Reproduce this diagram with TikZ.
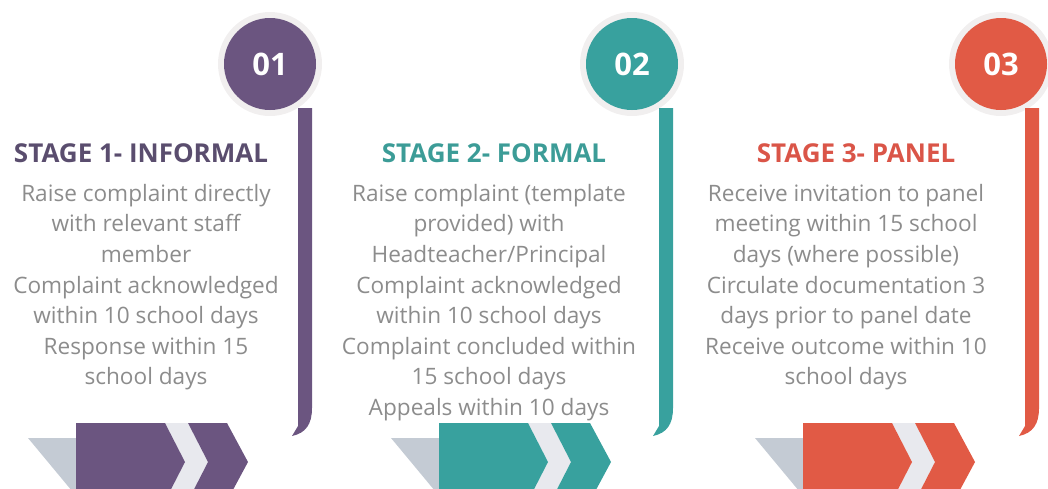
\documentclass[tikz,border=0pt]{standalone}
\usepackage{fontspec}
\setmainfont{Open Sans}
\usetikzlibrary{positioning}

\definecolor{plum}{HTML}{6B5580}
\definecolor{teal}{HTML}{38A19E}
\definecolor{coral}{HTML}{E15A45}
\definecolor{headplum}{HTML}{5A4D6E}
\definecolor{headteal}{HTML}{3C9C97}
\definecolor{headcoral}{HTML}{DA5548}
\definecolor{bodygray}{HTML}{8C8C8C}
\definecolor{ringgray}{HTML}{F1EFEF}
\definecolor{bandgray}{HTML}{E8E9EE}
\definecolor{slate}{HTML}{C4CBD4}

\begin{document}
\begin{tikzpicture}[x=1pt,y=-1pt,
  numdisc/.style={circle,minimum size=92pt,inner sep=0pt,text=white,
    font=\fontsize{31}{33}\selectfont\bfseries},
  heading/.style={font=\fontsize{26}{30}\selectfont\bfseries,anchor=base,inner sep=0pt},
  bodytext/.style={font=\fontsize{22.6}{30.6}\selectfont,text=bodygray,align=center,
    anchor=north,inner sep=0pt}]
  \useasboundingbox (0,0) rectangle (1048,488);
  \clip (0,0) rectangle (1048,488);
  \foreach \n/\col/\cx/\bx/\ax in {01/plum/270/298/0, 02/teal/632/659/363, 03/coral/1001/1025/727}{
    % ring, bar with curled foot, then the number disc
    \fill[ringgray] (\cx,64) circle (52pt);
    \fill[\col] (\bx,108) -- (\bx,426) -- (\bx-6,436)
      .. controls (\bx+8,433) and (\bx+14,424) .. (\bx+14,408) -- (\bx+14,108) -- cycle;
    \node[numdisc,fill=\col] (n\n) at (\cx,64) {\n};
    % chevrons at the foot
    \begin{scope}[shift={(\ax,0)}]
      \fill[slate] (28,438) -- (77,438) -- (77,497) -- cycle;
      \fill[bandgray] (165,423) -- (188,423) -- (208,462) -- (188,501) -- (165,501) -- (185,462) -- cycle;
      \fill[\col] (76,423) -- (165,423) -- (185,462) -- (165,501) -- (76,501) -- cycle;
      \fill[\col] (188,423) -- (227,423) -- (248,462) -- (227,501) -- (188,501) -- (208,462) -- cycle;
    \end{scope}
  }
  \node[heading,text=headplum] (h1) at (141,162.5) {STAGE 1- INFORMAL};
  \node[heading,text=headteal] (h2) at (494,162.5) {STAGE 2- FORMAL};
  \node[heading,text=headcoral] (h3) at (856,162.5) {STAGE 3- PANEL};
  \node[bodytext] (b1) at (146,184) {Raise complaint directly\\with relevant staff\\member\\
    Complaint acknowledged\\within 10 school days\\Response within 15\\school days};
  \node[bodytext] (b2) at (489,184) {Raise complaint (template\\provided) with\\Headteacher/Principal\\
    Complaint acknowledged\\within 10 school days\\Complaint concluded within\\15 school days\\Appeals within 10 days};
  \node[bodytext] (b3) at (846,184) {Receive invitation to panel\\meeting within 15 school\\days (where possible)\\
    Circulate documentation 3\\days prior to panel date\\Receive outcome within 10\\school days};
\end{tikzpicture}
\end{document}
